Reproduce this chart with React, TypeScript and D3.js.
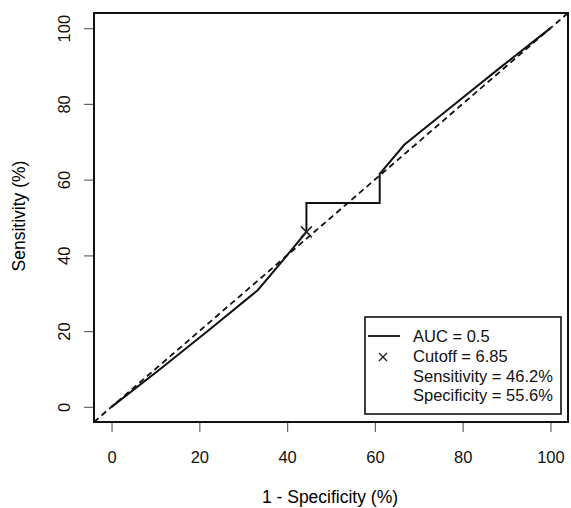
import React, { useEffect, useRef } from 'react';
import * as d3 from 'd3';

// ROC points, in percent (1 - specificity, sensitivity)
const fpr = [0, 11.1, 22.2, 33.3, 38.9, 44.4, 44.4, 61.1, 61.1, 66.7, 77.8, 88.9, 100];
const tpr = [0, 10.0, 20.3, 30.8, 38.5, 46.2, 53.8, 53.8, 61.5, 69.2, 79.6, 89.9, 100];
const ticks = [0, 20, 40, 60, 80, 100];
const cutoff = { x: 44.4, y: 46.2 };
const legendLabels = ['AUC = 0.5', 'Cutoff = 6.85', 'Sensitivity = 46.2%', 'Specificity = 55.6%'];

const W = 571, H = 508;
const FONT = '"Liberation Sans", Arial, Helvetica, sans-serif';

export default function App() {
  const ref = useRef<SVGSVGElement>(null);

  useEffect(() => {
    const svg = d3.select(ref.current);
    svg.selectAll('*').remove();

    const left = 94, right = 568, top = 13, bottom = 422;

    const x = d3.scaleLinear().domain([-4, 104]).range([left, right]);
    const y = d3.scaleLinear().domain([-4, 104]).range([bottom, top]);

    svg.append('rect')
      .attr('width', W).attr('height', H).attr('fill', '#fff');

    // diagonal reference line
    svg.append('line')
      .attr('x1', x(-4)).attr('y1', y(-4))
      .attr('x2', x(104)).attr('y2', y(104))
      .attr('stroke', '#111').attr('stroke-width', 1.8)
      .attr('stroke-dasharray', '6,4');

    const pts: [number, number][] = fpr.map((d, i) => [d, tpr[i]]);
    const line = d3.line<[number, number]>()
      .x(d => x(d[0]))
      .y(d => y(d[1]));

    svg.append('path')
      .datum(pts)
      .attr('d', line)
      .attr('fill', 'none')
      .attr('stroke', '#111')
      .attr('stroke-width', 2);

    const cross = (cx: number, cy: number, s: number) =>
      `M${cx - s},${cy - s}L${cx + s},${cy + s}M${cx - s},${cy + s}L${cx + s},${cy - s}`;

    // cutoff marker
    svg.append('path')
      .attr('d', cross(x(cutoff.x), y(cutoff.y), 5.5))
      .attr('stroke', '#222').attr('stroke-width', 1.5);

    // axes (R style)
    const xAxis = svg.append('g')
      .attr('transform', `translate(0,${bottom})`)
      .call(d3.axisBottom(x).tickValues(ticks).tickSize(10));
    xAxis.select('.domain').remove();

    const yAxis = svg.append('g')
      .attr('transform', `translate(${left},0)`)
      .call(d3.axisLeft(y).tickValues(ticks).tickSize(10));
    yAxis.select('.domain').remove();

    svg.selectAll('.tick line').attr('stroke', '#666').attr('stroke-width', 1.2);
    svg.selectAll('.tick text')
      .attr('font-family', FONT)
      .attr('font-size', 16.5)
      .attr('fill', '#111');

    xAxis.selectAll('.tick text')
      .attr('y', 41).attr('dy', 0);

    yAxis.selectAll('.tick text')
      .attr('x', 0).attr('dy', 0)
      .attr('text-anchor', 'middle')
      .attr('transform', 'translate(-24,0) rotate(-90)');

    // plot box
    svg.append('rect')
      .attr('x', left).attr('y', top)
      .attr('width', right - left).attr('height', bottom - top)
      .attr('fill', 'none').attr('stroke', '#111').attr('stroke-width', 2);

    // axis titles
    svg.append('text')
      .attr('x', (left + right) / 2 - 1).attr('y', 503)
      .attr('text-anchor', 'middle')
      .attr('font-family', FONT).attr('font-size', 17.5)
      .text('1 - Specificity (%)');

    svg.append('text')
      .attr('transform', `translate(25,216) rotate(-90)`)
      .attr('text-anchor', 'middle')
      .attr('font-family', FONT).attr('font-size', 17.5)
      .text('Sensitivity (%)');

    // legend
    const lg = svg.append('g');
    lg.append('rect')
      .attr('x', 365).attr('y', 317).attr('width', 196).attr('height', 97)
      .attr('fill', '#fff').attr('stroke', '#111').attr('stroke-width', 1.6);
    lg.append('line')
      .attr('x1', 368).attr('x2', 400).attr('y1', 336).attr('y2', 336)
      .attr('stroke', '#111').attr('stroke-width', 1.8);
    lg.append('path')
      .attr('d', cross(383, 357, 4))
      .attr('stroke', '#222').attr('stroke-width', 1.4);
    lg.selectAll('text.lbl')
      .data(legendLabels)
      .enter().append('text')
      .attr('class', 'lbl')
      .attr('x', 413)
      .attr('y', (d, i) => 342 + i * 19.8)
      .attr('font-family', FONT).attr('font-size', 16.5)
      .attr('fill', '#111')
      .text(d => d);
  }, []);

  return (
    <svg ref={ref} width={W} height={H}
      style={{ position: 'absolute', left: 0, top: 0, display: 'block' }} />
  );
}
